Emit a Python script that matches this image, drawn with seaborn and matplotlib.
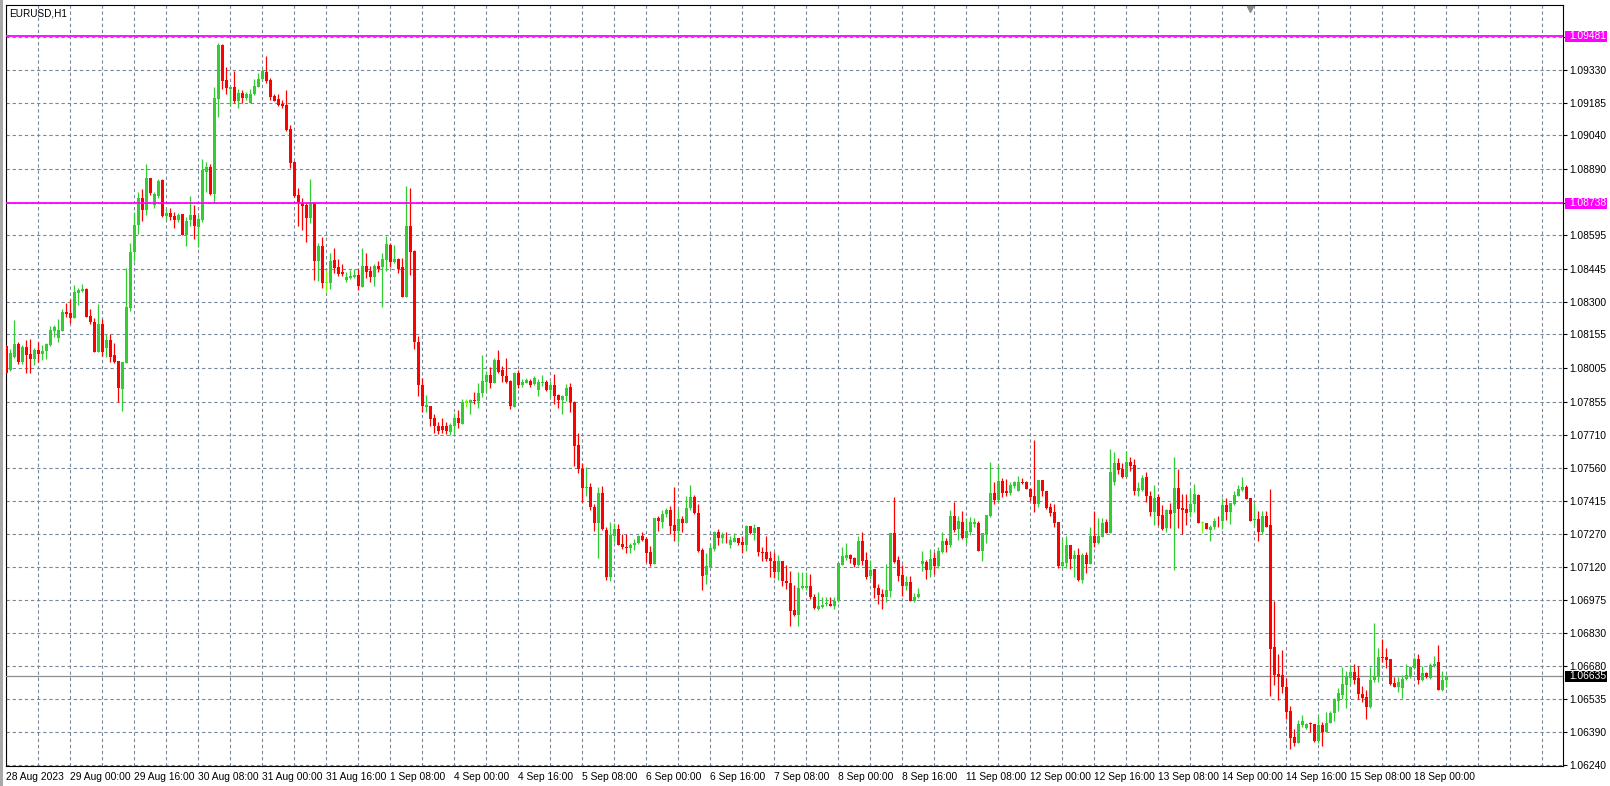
import numpy as np
import pandas as pd
import seaborn as sns
import matplotlib.pyplot as plt
from matplotlib.patches import Rectangle
from matplotlib.transforms import blended_transform_factory

# ---- data: EURUSD H1, one value per bar ----
symbol = "EURUSD,H1"

opens = [
    1.08103, 1.07997, 1.08053, 1.08112, 1.08032, 1.08097, 1.08068, 1.08046, 1.08086, 1.08068,
    1.08080, 1.08108, 1.08170, 1.08139, 1.08170, 1.08254, 1.08250, 1.08229, 1.08340, 1.08348,
    1.08357, 1.08237, 1.08211, 1.08078, 1.08201, 1.08093, 1.08130, 1.08063, 1.08037, 1.07914,
    1.08029, 1.08274, 1.08520, 1.08640, 1.08760, 1.08708, 1.08850, 1.08732, 1.08768, 1.08842,
    1.08683, 1.08696, 1.08682, 1.08664, 1.08690, 1.08597, 1.08664, 1.08686, 1.08634, 1.08664,
    1.08879, 1.08901, 1.08778, 1.09201, 1.09441, 1.09286, 1.09246, 1.09253, 1.09193, 1.09230,
    1.09204, 1.09185, 1.09222, 1.09256, 1.09289, 1.09321, 1.09286, 1.09215, 1.09201, 1.09181,
    1.09173, 1.09068, 1.08921, 1.08773, 1.08741, 1.08730, 1.08674, 1.08738, 1.08483, 1.08548,
    1.08384, 1.08385, 1.08486, 1.08455, 1.08434, 1.08399, 1.08406, 1.08410, 1.08419, 1.08367,
    1.08459, 1.08439, 1.08412, 1.08459, 1.08453, 1.08486, 1.08553, 1.08479, 1.08489, 1.08456,
    1.08323, 1.08637, 1.08526, 1.08120, 1.07930, 1.07834, 1.07839, 1.07783, 1.07746, 1.07749,
    1.07746, 1.07723, 1.07750, 1.07784, 1.07759, 1.07855, 1.07852, 1.07864, 1.07860, 1.07894,
    1.07945, 1.07975, 1.07938, 1.08042, 1.07997, 1.07971, 1.07948, 1.07834, 1.07985, 1.07931,
    1.07941, 1.07950, 1.07935, 1.07908, 1.07940, 1.07945, 1.07908, 1.07931, 1.07886, 1.07864,
    1.07882, 1.07920, 1.07856, 1.07664, 1.07557, 1.07471, 1.07476, 1.07390, 1.07319, 1.07449,
    1.07286, 1.07079, 1.07257, 1.07289, 1.07224, 1.07212, 1.07208, 1.07217, 1.07227, 1.07259,
    1.07246, 1.07187, 1.07135, 1.07341, 1.07323, 1.07357, 1.07375, 1.07308, 1.07282, 1.07335,
    1.07319, 1.07382, 1.07431, 1.07360, 1.07197, 1.07086, 1.07123, 1.07203, 1.07279, 1.07252,
    1.07260, 1.07220, 1.07234, 1.07251, 1.07234, 1.07217, 1.07304, 1.07271, 1.07297, 1.07190,
    1.07186, 1.07162, 1.07149, 1.07097, 1.07146, 1.07061, 1.07051, 1.06931, 1.06909, 1.07027,
    1.07027, 1.07035, 1.06990, 1.06935, 1.06944, 1.06957, 1.06959, 1.06950, 1.06971, 1.07131,
    1.07162, 1.07175, 1.07160, 1.07130, 1.07237, 1.07153, 1.07083, 1.07113, 1.07027, 1.07001,
    1.06987, 1.07016, 1.07271, 1.07153, 1.07086, 1.07039, 1.07056, 1.06972, 1.06987, 1.07135,
    1.07145, 1.07108, 1.07163, 1.07126, 1.07187, 1.07237, 1.07219, 1.07348, 1.07290, 1.07323,
    1.07252, 1.07278, 1.07312, 1.07315, 1.07194, 1.07264, 1.07346, 1.07452, 1.07420, 1.07504,
    1.07457, 1.07449, 1.07483, 1.07457, 1.07497, 1.07497, 1.07468, 1.07437, 1.07402, 1.07508,
    1.07460, 1.07387, 1.07368, 1.07323, 1.07126, 1.07141, 1.07220, 1.07157, 1.07175, 1.07064,
    1.07175, 1.07134, 1.07257, 1.07227, 1.07254, 1.07323, 1.07271, 1.07501, 1.07582, 1.07557,
    1.07523, 1.07590, 1.07575, 1.07461, 1.07464, 1.07520, 1.07439, 1.07368, 1.07432, 1.07353,
    1.07294, 1.07375, 1.07361, 1.07472, 1.07383, 1.07378, 1.07365, 1.07402, 1.07442, 1.07316,
    1.07316, 1.07284, 1.07297, 1.07327, 1.07324, 1.07395, 1.07365, 1.07402, 1.07438, 1.07464,
    1.07479, 1.07430, 1.07329, 1.07335, 1.07279, 1.07346, 1.07308, 1.06765, 1.06646, 1.06642,
    1.06588, 1.06482, 1.06365, 1.06341, 1.06420, 1.06408, 1.06427, 1.06424, 1.06346, 1.06420,
    1.06390, 1.06427, 1.06471, 1.06528, 1.06553, 1.06597, 1.06630, 1.06655, 1.06630, 1.06557,
    1.06545, 1.06498, 1.06620, 1.06637, 1.06722, 1.06723, 1.06713, 1.06608, 1.06590, 1.06582,
    1.06622, 1.06634, 1.06671, 1.06713, 1.06617, 1.06649, 1.06627, 1.06682, 1.06697, 1.06575,
    1.06617,
]

highs = [
    1.08108, 1.08090, 1.08219, 1.08123, 1.08106, 1.08131, 1.08134, 1.08096, 1.08123, 1.08108,
    1.08118, 1.08194, 1.08195, 1.08222, 1.08266, 1.08296, 1.08312, 1.08374, 1.08360, 1.08377,
    1.08361, 1.08266, 1.08226, 1.08290, 1.08223, 1.08155, 1.08155, 1.08117, 1.08037, 1.08032,
    1.08450, 1.08560, 1.08700, 1.08790, 1.08800, 1.08913, 1.08850, 1.08788, 1.08845, 1.08845,
    1.08713, 1.08719, 1.08698, 1.08693, 1.08690, 1.08679, 1.08768, 1.08730, 1.08686, 1.08935,
    1.08920, 1.08911, 1.09256, 1.09449, 1.09446, 1.09345, 1.09256, 1.09327, 1.09244, 1.09241,
    1.09234, 1.09244, 1.09289, 1.09315, 1.09333, 1.09392, 1.09293, 1.09224, 1.09224, 1.09197,
    1.09241, 1.09086, 1.08926, 1.08807, 1.08760, 1.08738, 1.08846, 1.08742, 1.08563, 1.08587,
    1.08442, 1.08517, 1.08539, 1.08490, 1.08468, 1.08433, 1.08442, 1.08447, 1.08446, 1.08539,
    1.08517, 1.08459, 1.08470, 1.08482, 1.08516, 1.08594, 1.08563, 1.08553, 1.08495, 1.08495,
    1.08815, 1.08806, 1.08530, 1.08150, 1.07960, 1.07886, 1.07839, 1.07802, 1.07765, 1.07784,
    1.07765, 1.07760, 1.07805, 1.07820, 1.07867, 1.07867, 1.07867, 1.07900, 1.07938, 1.08064,
    1.07993, 1.08008, 1.08048, 1.08086, 1.08015, 1.08052, 1.07953, 1.07988, 1.07997, 1.07957,
    1.07963, 1.07956, 1.07968, 1.07956, 1.07975, 1.07953, 1.07950, 1.07980, 1.07889, 1.07886,
    1.07935, 1.07938, 1.07859, 1.07716, 1.07585, 1.07565, 1.07493, 1.07400, 1.07479, 1.07483,
    1.07298, 1.07322, 1.07319, 1.07313, 1.07267, 1.07268, 1.07230, 1.07246, 1.07264, 1.07276,
    1.07254, 1.07215, 1.07338, 1.07348, 1.07375, 1.07385, 1.07393, 1.07476, 1.07378, 1.07350,
    1.07437, 1.07486, 1.07442, 1.07402, 1.07205, 1.07185, 1.07224, 1.07283, 1.07289, 1.07279,
    1.07277, 1.07257, 1.07271, 1.07251, 1.07257, 1.07308, 1.07304, 1.07313, 1.07301, 1.07212,
    1.07257, 1.07193, 1.07190, 1.07175, 1.07146, 1.07131, 1.07104, 1.07042, 1.07101, 1.07101,
    1.07101, 1.07091, 1.07002, 1.07009, 1.06986, 1.06986, 1.06986, 1.06986, 1.07141, 1.07212,
    1.07230, 1.07179, 1.07167, 1.07259, 1.07278, 1.07190, 1.07153, 1.07113, 1.07046, 1.07022,
    1.07135, 1.07271, 1.07434, 1.07170, 1.07130, 1.07083, 1.07083, 1.07004, 1.07030, 1.07194,
    1.07153, 1.07201, 1.07190, 1.07212, 1.07278, 1.07249, 1.07375, 1.07409, 1.07348, 1.07370,
    1.07341, 1.07342, 1.07338, 1.07326, 1.07274, 1.07352, 1.07590, 1.07497, 1.07575, 1.07519,
    1.07511, 1.07501, 1.07504, 1.07526, 1.07519, 1.07504, 1.07471, 1.07686, 1.07508, 1.07508,
    1.07460, 1.07405, 1.07400, 1.07323, 1.07245, 1.07260, 1.07220, 1.07197, 1.07205, 1.07183,
    1.07186, 1.07301, 1.07371, 1.07338, 1.07341, 1.07334, 1.07645, 1.07634, 1.07605, 1.07582,
    1.07637, 1.07612, 1.07600, 1.07501, 1.07531, 1.07543, 1.07457, 1.07486, 1.07446, 1.07398,
    1.07378, 1.07408, 1.07611, 1.07557, 1.07446, 1.07446, 1.07464, 1.07489, 1.07445, 1.07324,
    1.07316, 1.07309, 1.07341, 1.07346, 1.07430, 1.07427, 1.07408, 1.07457, 1.07486, 1.07523,
    1.07486, 1.07430, 1.07405, 1.07371, 1.07371, 1.07371, 1.07468, 1.06971, 1.06735, 1.06753,
    1.06630, 1.06504, 1.06400, 1.06442, 1.06464, 1.06430, 1.06434, 1.06424, 1.06457, 1.06434,
    1.06479, 1.06483, 1.06538, 1.06582, 1.06676, 1.06657, 1.06686, 1.06691, 1.06683, 1.06593,
    1.06575, 1.06679, 1.06874, 1.06760, 1.06802, 1.06760, 1.06713, 1.06634, 1.06634, 1.06642,
    1.06691, 1.06682, 1.06720, 1.06735, 1.06682, 1.06654, 1.06694, 1.06726, 1.06775, 1.06660,
    1.06642,
]

lows = [
    1.07982, 1.07994, 1.08049, 1.08023, 1.08023, 1.07985, 1.07985, 1.08019, 1.08032, 1.08041,
    1.08046, 1.08103, 1.08145, 1.08123, 1.08170, 1.08234, 1.08207, 1.08229, 1.08287, 1.08343,
    1.08234, 1.08200, 1.08078, 1.08078, 1.08059, 1.08053, 1.08034, 1.08026, 1.07856, 1.07816,
    1.08029, 1.08260, 1.08480, 1.08600, 1.08660, 1.08686, 1.08775, 1.08719, 1.08763, 1.08679,
    1.08664, 1.08664, 1.08630, 1.08656, 1.08596, 1.08550, 1.08639, 1.08581, 1.08542, 1.08656,
    1.08790, 1.08775, 1.08741, 1.09123, 1.09246, 1.09222, 1.09172, 1.09185, 1.09163, 1.09182,
    1.09197, 1.09182, 1.09219, 1.09253, 1.09286, 1.09271, 1.09197, 1.09191, 1.09170, 1.09163,
    1.09061, 1.08896, 1.08767, 1.08638, 1.08619, 1.08567, 1.08649, 1.08397, 1.08394, 1.08363,
    1.08345, 1.08357, 1.08430, 1.08415, 1.08415, 1.08390, 1.08400, 1.08406, 1.08353, 1.08367,
    1.08407, 1.08390, 1.08372, 1.08434, 1.08279, 1.08439, 1.08456, 1.08471, 1.08430, 1.08323,
    1.08320, 1.08419, 1.08090, 1.07880, 1.07810, 1.07812, 1.07746, 1.07716, 1.07713, 1.07716,
    1.07713, 1.07710, 1.07719, 1.07741, 1.07759, 1.07834, 1.07802, 1.07846, 1.07830, 1.07879,
    1.07901, 1.07919, 1.07938, 1.07982, 1.07945, 1.07941, 1.07824, 1.07831, 1.07919, 1.07920,
    1.07938, 1.07920, 1.07932, 1.07882, 1.07926, 1.07904, 1.07876, 1.07846, 1.07827, 1.07802,
    1.07857, 1.07812, 1.07572, 1.07538, 1.07412, 1.07439, 1.07375, 1.07283, 1.07163, 1.07286,
    1.07064, 1.07061, 1.07234, 1.07217, 1.07202, 1.07182, 1.07185, 1.07197, 1.07222, 1.07239,
    1.07142, 1.07126, 1.07135, 1.07282, 1.07296, 1.07342, 1.07268, 1.07237, 1.07234, 1.07276,
    1.07316, 1.07375, 1.07357, 1.07190, 1.07017, 1.07046, 1.07120, 1.07194, 1.07217, 1.07227,
    1.07230, 1.07208, 1.07231, 1.07220, 1.07183, 1.07194, 1.07266, 1.07242, 1.07172, 1.07149,
    1.07146, 1.07075, 1.07072, 1.07064, 1.07035, 1.07024, 1.06857, 1.06904, 1.06857, 1.07024,
    1.07020, 1.06980, 1.06935, 1.06931, 1.06941, 1.06950, 1.06949, 1.06935, 1.06968, 1.07131,
    1.07153, 1.07138, 1.07120, 1.07126, 1.07130, 1.07068, 1.07068, 1.06982, 1.06957, 1.06935,
    1.06967, 1.06987, 1.07138, 1.07059, 1.06994, 1.07019, 1.06970, 1.06967, 1.06985, 1.07104,
    1.07068, 1.07079, 1.07090, 1.07116, 1.07185, 1.07187, 1.07212, 1.07278, 1.07241, 1.07244,
    1.07230, 1.07264, 1.07298, 1.07193, 1.07150, 1.07227, 1.07343, 1.07402, 1.07415, 1.07434,
    1.07437, 1.07442, 1.07471, 1.07457, 1.07489, 1.07467, 1.07415, 1.07368, 1.07387, 1.07439,
    1.07378, 1.07348, 1.07297, 1.07116, 1.07119, 1.07119, 1.07113, 1.07079, 1.07061, 1.07052,
    1.07094, 1.07134, 1.07212, 1.07224, 1.07254, 1.07271, 1.07271, 1.07486, 1.07535, 1.07519,
    1.07523, 1.07550, 1.07442, 1.07439, 1.07457, 1.07412, 1.07346, 1.07306, 1.07309, 1.07284,
    1.07279, 1.07294, 1.07106, 1.07294, 1.07267, 1.07309, 1.07343, 1.07368, 1.07315, 1.07272,
    1.07289, 1.07235, 1.07289, 1.07297, 1.07289, 1.07331, 1.07312, 1.07398, 1.07435, 1.07461,
    1.07424, 1.07324, 1.07309, 1.07239, 1.07267, 1.07298, 1.06550, 1.06597, 1.06531, 1.06560,
    1.06446, 1.06314, 1.06326, 1.06341, 1.06412, 1.06400, 1.06386, 1.06343, 1.06338, 1.06326,
    1.06390, 1.06427, 1.06437, 1.06483, 1.06535, 1.06494, 1.06597, 1.06602, 1.06535, 1.06523,
    1.06446, 1.06494, 1.06609, 1.06612, 1.06697, 1.06674, 1.06597, 1.06587, 1.06568, 1.06541,
    1.06620, 1.06627, 1.06667, 1.06602, 1.06615, 1.06627, 1.06624, 1.06679, 1.06575, 1.06571,
    1.06590,
]

closes = [
    1.07985, 1.08074, 1.08112, 1.08032, 1.08097, 1.08065, 1.08046, 1.08086, 1.08068, 1.08081,
    1.08114, 1.08174, 1.08186, 1.08174, 1.08254, 1.08246, 1.08229, 1.08343, 1.08352, 1.08357,
    1.08234, 1.08211, 1.08078, 1.08201, 1.08078, 1.08130, 1.08056, 1.08032, 1.07918, 1.08032,
    1.08278, 1.08520, 1.08640, 1.08760, 1.08708, 1.08852, 1.08782, 1.08781, 1.08837, 1.08683,
    1.08696, 1.08679, 1.08664, 1.08686, 1.08596, 1.08659, 1.08686, 1.08639, 1.08668, 1.08886,
    1.08901, 1.08778, 1.09204, 1.09441, 1.09281, 1.09252, 1.09256, 1.09193, 1.09230, 1.09207,
    1.09222, 1.09224, 1.09259, 1.09292, 1.09327, 1.09281, 1.09212, 1.09194, 1.09175, 1.09170,
    1.09064, 1.08918, 1.08772, 1.08738, 1.08727, 1.08674, 1.08738, 1.08483, 1.08548, 1.08382,
    1.08384, 1.08482, 1.08452, 1.08425, 1.08425, 1.08410, 1.08415, 1.08421, 1.08372, 1.08459,
    1.08434, 1.08412, 1.08459, 1.08447, 1.08490, 1.08557, 1.08479, 1.08490, 1.08446, 1.08323,
    1.08637, 1.08523, 1.08120, 1.07930, 1.07836, 1.07840, 1.07780, 1.07746, 1.07726, 1.07731,
    1.07726, 1.07753, 1.07784, 1.07760, 1.07855, 1.07855, 1.07864, 1.07858, 1.07894, 1.07948,
    1.07975, 1.07938, 1.08042, 1.07990, 1.07968, 1.07945, 1.07839, 1.07985, 1.07931, 1.07945,
    1.07953, 1.07931, 1.07963, 1.07944, 1.07942, 1.07906, 1.07931, 1.07883, 1.07864, 1.07882,
    1.07919, 1.07853, 1.07659, 1.07556, 1.07474, 1.07479, 1.07390, 1.07319, 1.07449, 1.07289,
    1.07079, 1.07264, 1.07289, 1.07219, 1.07212, 1.07208, 1.07217, 1.07230, 1.07259, 1.07242,
    1.07185, 1.07135, 1.07338, 1.07326, 1.07357, 1.07375, 1.07305, 1.07282, 1.07335, 1.07319,
    1.07385, 1.07434, 1.07360, 1.07194, 1.07083, 1.07126, 1.07205, 1.07279, 1.07252, 1.07264,
    1.07257, 1.07242, 1.07252, 1.07230, 1.07217, 1.07304, 1.07271, 1.07294, 1.07186, 1.07183,
    1.07157, 1.07146, 1.07097, 1.07146, 1.07057, 1.07049, 1.06928, 1.06909, 1.07030, 1.07035,
    1.07035, 1.06986, 1.06937, 1.06949, 1.06953, 1.06960, 1.06950, 1.06971, 1.07138, 1.07171,
    1.07175, 1.07157, 1.07130, 1.07237, 1.07148, 1.07076, 1.07108, 1.07027, 1.06997, 1.06987,
    1.07019, 1.07271, 1.07145, 1.07083, 1.07039, 1.07056, 1.06972, 1.06990, 1.07001, 1.07148,
    1.07108, 1.07157, 1.07127, 1.07193, 1.07237, 1.07219, 1.07348, 1.07286, 1.07326, 1.07252,
    1.07281, 1.07323, 1.07323, 1.07194, 1.07274, 1.07352, 1.07452, 1.07420, 1.07504, 1.07452,
    1.07449, 1.07486, 1.07497, 1.07501, 1.07494, 1.07468, 1.07434, 1.07402, 1.07508, 1.07457,
    1.07383, 1.07363, 1.07319, 1.07126, 1.07143, 1.07220, 1.07156, 1.07175, 1.07064, 1.07175,
    1.07134, 1.07257, 1.07227, 1.07257, 1.07319, 1.07271, 1.07545, 1.07585, 1.07553, 1.07523,
    1.07590, 1.07572, 1.07461, 1.07472, 1.07516, 1.07439, 1.07368, 1.07427, 1.07350, 1.07291,
    1.07375, 1.07358, 1.07472, 1.07380, 1.07375, 1.07361, 1.07402, 1.07446, 1.07315, 1.07316,
    1.07289, 1.07301, 1.07327, 1.07324, 1.07398, 1.07365, 1.07405, 1.07442, 1.07469, 1.07479,
    1.07424, 1.07324, 1.07332, 1.07279, 1.07349, 1.07301, 1.06757, 1.06642, 1.06634, 1.06586,
    1.06479, 1.06363, 1.06341, 1.06423, 1.06437, 1.06424, 1.06423, 1.06346, 1.06420, 1.06390,
    1.06427, 1.06474, 1.06533, 1.06563, 1.06602, 1.06634, 1.06655, 1.06620, 1.06557, 1.06538,
    1.06498, 1.06620, 1.06637, 1.06723, 1.06719, 1.06708, 1.06602, 1.06590, 1.06612, 1.06625,
    1.06642, 1.06679, 1.06713, 1.06617, 1.06649, 1.06634, 1.06686, 1.06691, 1.06575, 1.06620,
    1.06635,
]

# time axis labels, one every 16 bars
time_labels = [
    "28 Aug 2023", "29 Aug 00:00", "29 Aug 16:00", "30 Aug 08:00", "31 Aug 00:00",
    "31 Aug 16:00", "1 Sep 08:00", "4 Sep 00:00", "4 Sep 16:00", "5 Sep 08:00",
    "6 Sep 00:00", "6 Sep 16:00", "7 Sep 08:00", "8 Sep 00:00", "8 Sep 16:00",
    "11 Sep 08:00", "12 Sep 00:00", "12 Sep 16:00", "13 Sep 08:00", "14 Sep 00:00",
    "14 Sep 16:00", "15 Sep 08:00", "18 Sep 00:00",
]

# price scale (two labels are covered by the line boxes)
price_ticks = [
    1.09475, 1.09330, 1.09185, 1.09040, 1.08890, 1.08740, 1.08595, 1.08445, 1.08300,
    1.08155, 1.08005, 1.07855, 1.07710, 1.07560, 1.07415, 1.07270, 1.07120, 1.06975,
    1.06830, 1.06680, 1.06535, 1.06390, 1.06240,
]
price_labels = ["" if p in (1.09475, 1.08740) else f"{p:.5f}" for p in price_ticks]

level_prices = [1.09481, 1.08738]
bid_price = 1.06635

# ---- colours ----
UP = "#32CD32"
DOWN = "#FF0000"
DOJI = "#7CFC00"
GRID = "#778899"
LEVEL = "#FF00FF"

df = pd.DataFrame({"open": opens, "high": highs, "low": lows, "close": closes})
df["bar"] = np.arange(len(df))
df["color"] = np.where(df["close"] > df["open"], UP,
                       np.where(df["close"] < df["open"], DOWN, DOJI))
df["body_low"] = df[["open", "close"]].min(axis=1)
df["body_h"] = (df["close"] - df["open"]).abs().clip(lower=0.00004)

sns.set_theme(style="white")
plt.rcParams["font.family"] = ["Liberation Sans", "DejaVu Sans"]

W, H = 1610, 786
fig = plt.figure(figsize=(W / 100, H / 100), dpi=100)
fig.patch.set_facecolor("white")
left_px, right_px, top_px, bottom_px = 5.7, 1563, 5, 766
ax = fig.add_axes([left_px / W, 1 - bottom_px / H,
                   (right_px - left_px) / W, (bottom_px - top_px) / H])
ax.set_facecolor("white")

# candles
ax.vlines(df["bar"], df["low"], df["high"], colors=df["color"], linewidth=0.9, zorder=3)
ax.bar(df["bar"], df["body_h"], bottom=df["body_low"], width=0.75,
       color=df["color"], linewidth=0, zorder=3)

ax.set_xlim(-0.15, 389.2)
ax.set_ylim(1.06237, 1.09619)

# grid
ax.set_xticks(np.arange(0, len(time_labels) * 16, 16))
ax.set_xticklabels(time_labels, ha="left")
ax.set_xticks(np.arange(0, 390, 8), minor=True)
ax.yaxis.tick_right()
ax.set_yticks(price_ticks)
ax.set_yticklabels(price_labels)
ax.grid(True, which="both", axis="x", color=GRID, linestyle=(0, (3, 2.5)), linewidth=0.8)
ax.grid(True, which="major", axis="y", color=GRID, linestyle=(0, (3, 2.5)), linewidth=0.8)
ax.set_axisbelow(True)

ax.tick_params(axis="x", which="major", direction="out", length=3, width=0.8,
               pad=1.5, labelsize=7.4, colors="black")
ax.tick_params(axis="x", which="minor", length=0)
ax.tick_params(axis="y", direction="out", length=3, width=0.8, pad=1.2,
               labelsize=7.4, colors="black")
for sp in ax.spines.values():
    sp.set_color("black")
    sp.set_linewidth(0.8)

# horizontal levels and bid line
trans = blended_transform_factory(ax.transAxes, ax.transData)
px_w = 1.0 / (right_px - left_px)
px_h = (1.09619 - 1.06237) / (bottom_px - top_px)
for lv in level_prices:
    ax.axhline(lv, color=LEVEL, linewidth=1.3, zorder=4)
    ax.add_patch(Rectangle((1 + 2 * px_w, lv - 5.5 * px_h), 42 * px_w, 11 * px_h,
                           transform=trans, facecolor=LEVEL, edgecolor="none",
                           clip_on=False, zorder=5))
    ax.text(1 + 6 * px_w, lv, f"{lv:.5f}", transform=trans, color="white",
            fontsize=7.4, va="center", ha="left", clip_on=False, zorder=6)

ax.axhline(bid_price, color="#8c8c8c", linewidth=0.9, zorder=2.8)
ax.add_patch(Rectangle((1 + 2 * px_w, bid_price - 5.5 * px_h), 42 * px_w, 11 * px_h,
                       transform=trans, facecolor="black", edgecolor="none",
                       clip_on=False, zorder=5))
ax.text(1 + 6 * px_w, bid_price, f"{bid_price:.5f}", transform=trans, color="white",
        fontsize=7.4, va="center", ha="left", clip_on=False, zorder=6)

# chart shift marker and symbol caption
ax.plot([311], [1.0 - 3.5 / (bottom_px - top_px)], marker="v", markersize=4.5,
        color="#8a8a8a", transform=blended_transform_factory(ax.transData, ax.transAxes),
        clip_on=False, zorder=6)
fig.text(9 / W, 1 - 13.5 / H, symbol, fontsize=7.2, color="black", va="center", ha="left")
fig.patches.append(Rectangle((0, 0), 3 / W, 1, transform=fig.transFigure,
                             facecolor="#a8a8a8", edgecolor="none"))

fig.savefig("out.png", dpi=100, facecolor="white")
